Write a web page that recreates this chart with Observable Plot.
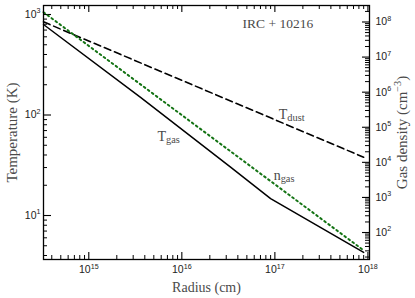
<!DOCTYPE html>
<html><head><meta charset="utf-8">
<script src="https://cdn.jsdelivr.net/npm/d3@7"></script>
<script src="https://cdn.jsdelivr.net/npm/@observablehq/plot@0.6"></script>
<style>body{margin:0;background:#fff} #chart{width:415px;height:298px}</style>
</head><body><div id="chart"></div>
<script>
// ---- data ----
const radiusTgas = [3.26e14, 3.6e15, 3.34e16, 9.0e16, 9.0e17];
const Tgas = [795, 150, 30.3, 14.7, 4.3];
const radiusTdust = [3.26e14, 9.0e17];
const Tdust = [845, 38];
const radiusNgas = [3.26e14, 9.0e17];
const ngas = [1.9e8, 31];

const xMajor = [1e15, 1e16, 1e17, 1e18];
const tMajor = [10, 100, 1000];
const nMajor = [1e2, 1e3, 1e4, 1e5, 1e6, 1e7, 1e8];

const xDomain = [3.26e14, 1.04e18];
const tDomain = [3.65, 1229];
const nDomain = [Math.pow(10, 1.231), Math.pow(10, 8.47)];

// map density onto the temperature scale (twin axis)
const lt0 = Math.log10(tDomain[0]), lt1 = Math.log10(tDomain[1]);
const ln0 = Math.log10(nDomain[0]), ln1 = Math.log10(nDomain[1]);
const nToT = n => Math.pow(10, lt0 + (Math.log10(n) - ln0) * (lt1 - lt0) / (ln1 - ln0));

function minors(lo, hi) {
  const out = [];
  for (let k = Math.floor(Math.log10(lo)); k <= Math.ceil(Math.log10(hi)); k++)
    for (let m = 2; m <= 9; m++) { const v = m * Math.pow(10, k); if (v >= lo && v <= hi) out.push(v); }
  return out;
}
const xMinor = minors(xDomain[0], xDomain[1]);
const tMinor = minors(tDomain[0], tDomain[1]);
const nMinor = minors(nDomain[0], nDomain[1]);

const W = 415, H = 298;
const mL = 43, mR = 46, mT = 5, mB = 39;
const iW = W - mL - mR, iH = H - mT - mB;
const serif = "Liberation Serif";
const sans = "Liberation Sans";
const labelColor = "#4a4a4a";
const green = "#137313";
const exp = v => `10^{${Math.round(Math.log10(v))}}`;
const tickFont = {fontSize: 10.5, fontFamily: sans, fill: "#222"};

const chart = Plot.plot({
  width: W, height: H,
  marginLeft: mL, marginRight: mR, marginTop: mT, marginBottom: mB,
  x: {type: "log", domain: xDomain, axis: null},
  y: {type: "log", domain: tDomain, axis: null},
  marks: [
    // ticks, inward
    Plot.tickX(xMajor, {x: d => d, insetTop: iH - 7, stroke: "#000", strokeWidth: 1.1}),
    Plot.tickX(xMinor, {x: d => d, insetTop: iH - 4, stroke: "#000", strokeWidth: 1}),
    Plot.tickX(xMajor, {x: d => d, insetBottom: iH - 7, stroke: "#000", strokeWidth: 1.1}),
    Plot.tickX(xMinor, {x: d => d, insetBottom: iH - 4, stroke: "#000", strokeWidth: 1}),
    Plot.tickY(tMajor, {y: d => d, insetRight: iW - 8, stroke: "#000", strokeWidth: 1.1}),
    Plot.tickY(tMinor, {y: d => d, insetRight: iW - 4, stroke: "#000", strokeWidth: 1}),
    Plot.tickY(nMajor.map(nToT), {y: d => d, insetLeft: iW - 7, stroke: "#000", strokeWidth: 1.1}),
    Plot.tickY(nMinor.map(nToT), {y: d => d, insetLeft: iW - 4, stroke: "#000", strokeWidth: 1}),
    // curves
    Plot.line(radiusTdust.map((r, i) => ({r, v: Tdust[i]})), {x: "r", y: "v", stroke: "#000", strokeWidth: 1.6, strokeDasharray: "7,4"}),
    Plot.line(radiusTgas.map((r, i) => ({r, v: Tgas[i]})), {x: "r", y: "v", stroke: "#000", strokeWidth: 1.5}),
    Plot.line(radiusNgas.map((r, i) => ({r, v: nToT(ngas[i])})), {x: "r", y: "v", stroke: green, strokeWidth: 2, strokeDasharray: "1.8,3.2"}),
    Plot.frame({stroke: "#000", strokeWidth: 1.3}),
    // tick labels
    Plot.text(xMajor, {x: d => d, frameAnchor: "bottom", dy: 6, lineAnchor: "top", text: exp, ...tickFont}),
    Plot.text(tMajor, {y: d => d, frameAnchor: "left", dx: -3, textAnchor: "end", text: exp, ...tickFont}),
    Plot.text(nMajor, {y: d => nToT(d), frameAnchor: "right", dx: 6, textAnchor: "start", text: exp, ...tickFont}),
    // axis labels
    Plot.text(["Radius (cm)"], {frameAnchor: "bottom", dy: 32, textAnchor: "middle", fontFamily: serif, fontSize: 14, fill: labelColor}),
    Plot.text(["Temperature (K)"], {frameAnchor: "left", dx: -31, rotate: -90, textAnchor: "middle", fontFamily: serif, fontSize: 15, fill: labelColor}),
    Plot.text(["Gas density (cm^{−3})"], {frameAnchor: "right", dx: 33, rotate: -90, textAnchor: "middle", fontFamily: serif, fontSize: 15, fill: labelColor}),
    // annotations
    Plot.text(["IRC + 10216"], {x: 4.5e16, y: 734, textAnchor: "start", lineAnchor: "bottom", fontFamily: serif, fontSize: 13.5, fill: labelColor}),
    Plot.text(["T_{gas}"], {x: 5.48e15, y: 55.7, textAnchor: "start", lineAnchor: "bottom", fontFamily: serif, fontSize: 14, fill: labelColor}),
    Plot.text(["T_{dust}"], {x: 1.1e17, y: 92.3, textAnchor: "start", lineAnchor: "bottom", fontFamily: serif, fontSize: 14, fill: labelColor}),
    Plot.text(["n_{gas}"], {x: 9.7e16, y: 22.8, textAnchor: "start", lineAnchor: "bottom", fontFamily: serif, fontSize: 14, fill: labelColor})
  ]
});

// superscript / subscript markup -> tspans
chart.querySelectorAll("text").forEach(t => {
  const s = t.textContent;
  if (!/[\^_]\{/.test(s)) return;
  let fs = parseFloat(t.getAttribute("font-size"));
  if (!fs) { let p = t.parentNode; while (p && p.getAttribute && !p.getAttribute("font-size")) p = p.parentNode; fs = p && p.getAttribute ? parseFloat(p.getAttribute("font-size")) : 10; }
  if (!fs) fs = 10;
  while (t.firstChild) t.removeChild(t.firstChild);
  const re = /([\^_])\{([^}]*)\}/g;
  let last = 0, m, shift = 0;
  const add = (txt, dy, size) => {
    const ts = document.createElementNS("http://www.w3.org/2000/svg", "tspan");
    ts.textContent = txt;
    if (dy) ts.setAttribute("dy", dy);
    if (size) ts.setAttribute("font-size", size);
    t.appendChild(ts);
  };
  while ((m = re.exec(s))) {
    if (m.index > last) { add(s.slice(last, m.index), shift ? -shift : 0); shift = 0; }
    const sup = m[1] === "^";
    const d = sup ? -0.42 * fs : 0.2 * fs;
    add(m[2], d - shift, fs * (sup ? 0.68 : 0.74));
    shift = d;
    last = re.lastIndex;
  }
  if (last < s.length) add(s.slice(last), shift ? -shift : 0);
});

document.getElementById("chart").appendChild(chart);
</script>
</body></html>
